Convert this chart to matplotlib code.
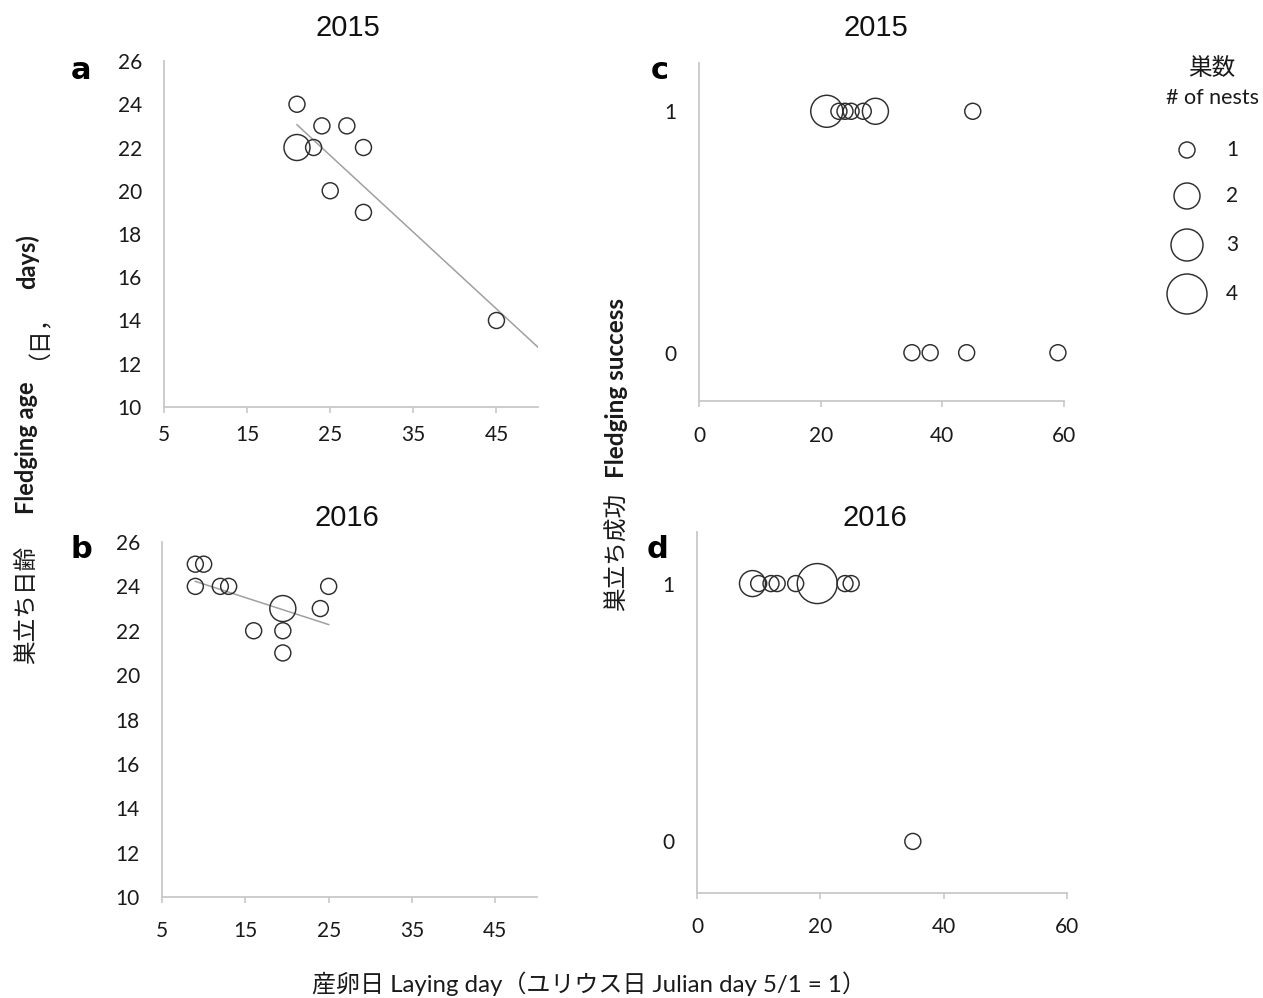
import numpy as np
import matplotlib
matplotlib.use("Agg")
import matplotlib.pyplot as plt

# fledging age vs laying day (a: 2015, b: 2016)
a_day = [21, 21, 23, 24, 27, 29, 25, 29, 45]
a_age = [24, 22, 22, 23, 23, 22, 20, 19, 14]
a_n = [1, 2, 1, 1, 1, 1, 1, 1, 1]

b_day = [9, 10, 9, 12, 13, 19.5, 16, 19.5, 19.5, 24, 25]
b_age = [25, 25, 24, 24, 24, 23, 22, 22, 21, 23, 24]
b_n = [1, 1, 1, 1, 1, 2, 1, 1, 1, 1, 1]

# fledging success vs laying day (c: 2015, d: 2016)
c_day = [21, 23, 24, 25, 27, 29, 45, 35, 38, 44, 59]
c_ok = [1, 1, 1, 1, 1, 1, 1, 0, 0, 0, 0]
c_n = [3, 1, 1, 1, 1, 2, 1, 1, 1, 1, 1]

d_day = [9, 10, 12, 13, 16, 19.5, 24, 25, 35]
d_ok = [1, 1, 1, 1, 1, 1, 1, 1, 0]
d_n = [2, 1, 1, 1, 1, 4, 1, 1, 1]

legend_n = [1, 2, 3, 4]

W, H = 1263, 998
DPI = 100
PX = 72.0 / DPI  # points per pixel
bubble_px = {1: 16, 2: 26, 3: 32, 4: 40}

LAT = ["Lato", "Noto Sans CJK JP"]
JP = ["Noto Sans CJK JP", "DejaVu Sans"]
TXT = "#1a1a1a"
SPINE = "#c8c8c8"
FS = 17


def sizes(ns):
    return [(bubble_px[k] * PX) ** 2 for k in ns]


def box(x0, y0, x1, y1):
    return [x0 / W, 1 - y1 / H, (x1 - x0) / W, (y1 - y0) / H]


def style(ax, xpad):
    for s in ["top", "right"]:
        ax.spines[s].set_visible(False)
    for s in ["left", "bottom"]:
        ax.spines[s].set_color(SPINE)
        ax.spines[s].set_linewidth(1.3)
    ax.tick_params(axis="x", direction="out", length=4, width=1.2, color=SPINE,
                   pad=xpad, labelsize=15, labelcolor=TXT)
    ax.tick_params(axis="y", length=0, pad=16, labelsize=15, labelcolor=TXT)
    for lab in ax.get_xticklabels() + ax.get_yticklabels():
        lab.set_family(LAT)


def bubbles(ax, x, y, n):
    ax.scatter(x, y, s=sizes(n), facecolors="none", edgecolors="#2e2e2e",
               linewidths=1.05, zorder=3, clip_on=False)


def trend(ax, x, y, n, x_end=None):
    xs = np.repeat(x, n)
    ys = np.repeat(y, n)
    k, c = np.polyfit(xs, ys, 1)
    x1 = max(xs) if x_end is None else x_end
    xx = np.array([min(xs), x1])
    ax.plot(xx, k * xx + c, color="#a0a0a0", lw=1.1, zorder=2)


fig = plt.figure(figsize=(W / DPI, H / DPI), dpi=DPI)

ax_a = fig.add_axes(box(164, 61, 538, 407))
ax_b = fig.add_axes(box(162, 542, 537, 897))
ax_c = fig.add_axes(box(699, 63, 1064, 401))
ax_d = fig.add_axes(box(697, 532, 1067, 893))

for ax, day, age, n, xend in [(ax_a, a_day, a_age, a_n, 50), (ax_b, b_day, b_age, b_n, None)]:
    ax.set_xlim(5, 50)
    ax.set_ylim(10, 26)
    ax.set_xticks([5, 15, 25, 35, 45])
    ax.set_yticks(range(10, 27, 2))
    trend(ax, day, age, n, xend)
    bubbles(ax, day, age, n)

for ax, day, ok, n in [(ax_c, c_day, c_ok, c_n), (ax_d, d_day, d_ok, d_n)]:
    ax.set_xlim(0, 60)
    ax.set_ylim(-0.2, 1.2)
    ax.set_xticks([0, 20, 40, 60])
    ax.set_yticks([0, 1])
    bubbles(ax, day, ok, n)

style(ax_a, 9)
style(ax_b, 13)
style(ax_c, 14)
style(ax_d, 13)

# overlay in pixel coordinates for titles, labels and the size key
ov = fig.add_axes([0, 0, 1, 1], facecolor="none")
ov.set_xlim(0, W)
ov.set_ylim(H, 0)
ov.axis("off")

for x, y, t in [(348, 28, "2015"), (347, 518, "2016"), (876, 28, "2015"), (875, 518, "2016")]:
    ov.text(x, y, t, ha="center", va="center", fontsize=21,
            family="Liberation Sans", color="#111111")

for x, y, t in [(81, 70, "a"), (81, 550, "b"), (660, 70, "c"), (658, 550, "d")]:
    ov.text(x, y, t, ha="center", va="center", fontsize=22, fontweight="heavy",
            family="DejaVu Sans", color="#000000")

# left axis title, built from pieces
ov.text(27, 664, "巣立ち日齢", rotation=90, ha="center", va="bottom",
        fontsize=FS, family=JP, color=TXT)
ov.text(27, 514, "Fledging age", rotation=90, ha="center", va="bottom",
        fontsize=FS, family=LAT, fontweight="bold", color=TXT)
ov.text(27, 360, "（日，", rotation=90, ha="center", va="bottom",
        fontsize=16.5, family=JP, color=TXT)
ov.text(27, 289, "days)", rotation=90, ha="center", va="bottom",
        fontsize=FS, family=LAT, fontweight="bold", color=TXT)

# right axis title
ov.text(617, 611, "巣立ち成功", rotation=90, ha="center", va="bottom",
        fontsize=FS, family=JP, color=TXT)
ov.text(617, 478, "Fledging success", rotation=90, ha="center", va="bottom",
        fontsize=17.5, family=LAT, fontweight="bold", color=TXT)

ov.text(589, 984, "産卵日 Laying day（ユリウス日 Julian day 5/1 = 1）", ha="center",
        va="center", fontsize=17.3, family=LAT, color=TXT)

# size key
ov.text(1212, 68, "巣数", ha="center", va="center", fontsize=FS, family=JP, color=TXT)
ov.text(1212, 98, "# of nests", ha="center", va="center", fontsize=15.5, family=LAT, color=TXT)
key_y = [150, 196, 245, 294]
ov.scatter([1187] * 4, key_y, s=sizes(legend_n), facecolors="none",
           edgecolors="#2e2e2e", linewidths=1.05)
for y, k in zip(key_y, legend_n):
    ov.text(1232, y, str(k), ha="center", va="center", fontsize=15, family=LAT, color=TXT)

fig.savefig("out.png", dpi=DPI)
